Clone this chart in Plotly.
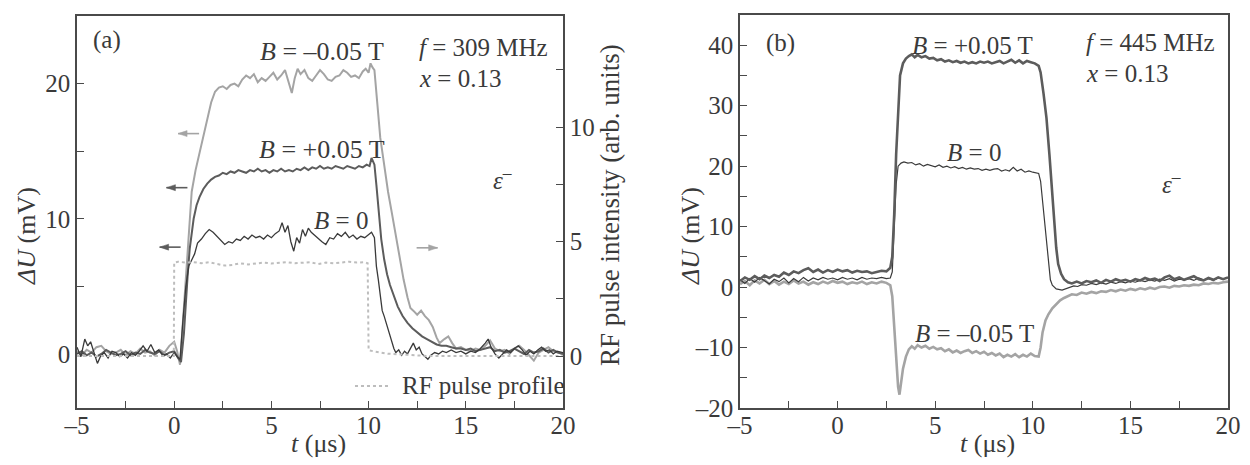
import plotly.graph_objects as go

# ---------------- Panel (a) data ----------------
a_neg_t = [-5.0,-4.75,-4.5,-4.25,-4.0,-3.75,-3.5,-3.25,-3.0,-2.75,-2.5,-2.25,-2.0,-1.75,-1.5,-1.25,-1.0,-0.75,-0.5,-0.25,0.0,0.15,0.3,
           0.45,0.6,0.75,0.9,1.1,1.3,1.5,1.7,1.9,2.1,2.3,
           2.5,2.7,2.9,3.1,3.3,3.5,3.7,3.9,4.1,4.3,4.5,4.7,4.9,5.1,5.3,5.5,5.7,5.9,6.05,6.2,6.35,6.5,6.7,6.9,7.1,7.3,7.5,7.7,7.9,8.1,8.3,8.5,8.7,8.9,9.1,9.3,9.5,9.7,9.85,10.0,10.1,10.2,
           10.3,10.45,10.6,10.8,11.0,11.2,11.4,11.6,11.8,12.0,12.15,12.3,12.5,12.7,12.9,13.1,13.3,13.5,13.65,13.9,14.1,14.3,14.5,14.75,15.0,15.25,15.5,15.75,16.0,16.25,16.5,16.75,17.0,17.25,17.5,17.75,18.0,18.25,18.5,18.75,19.0,19.25,19.5,19.75,20.0]
a_neg_v = [0.2,-0.1,0.3,0.1,0.5,0.6,0.2,0.0,0.1,0.3,-0.1,0.2,0.0,0.4,0.1,0.2,-0.1,0.3,0.1,0.6,0.9,0.2,-0.8,
           2.5,6.0,9.5,12.0,13.6,14.8,16.0,17.3,18.6,19.4,19.7,
           19.8,19.6,19.9,20.0,19.8,20.3,20.6,20.4,20.7,20.1,20.4,20.2,20.5,20.8,20.3,20.6,21.0,20.0,19.3,20.4,21.1,20.7,21.0,20.4,20.2,20.6,21.0,20.7,20.3,20.2,20.5,20.6,21.0,20.8,20.5,20.6,20.4,20.9,21.1,20.8,21.5,21.2,
           21.0,18.5,16.0,14.0,12.0,10.4,8.8,7.0,5.5,4.2,3.4,3.2,2.9,3.2,2.8,2.5,2.0,1.2,0.8,1.1,1.3,0.8,0.4,0.5,0.3,0.2,0.4,0.3,0.6,1.0,0.4,0.2,0.3,0.0,0.4,0.6,0.3,-0.1,-0.5,0.1,0.3,0.5,0.2,0.1,0.0]

a_pos_t = [-5.0,-4.75,-4.5,-4.25,-4.0,-3.75,-3.5,-3.25,-3.0,-2.75,-2.5,-2.25,-2.0,-1.75,-1.5,-1.25,-1.0,-0.75,-0.5,-0.25,0.0,0.2,0.35,
           0.5,0.6,0.7,0.8,0.9,1.0,1.15,1.3,1.5,1.7,1.9,2.1,2.3,
           2.5,2.7,2.9,3.1,3.3,3.5,3.7,3.9,4.1,4.3,4.5,4.7,4.9,5.1,5.3,5.5,5.7,5.9,6.1,6.3,6.5,6.7,6.9,7.1,7.3,7.5,7.7,7.9,8.1,8.3,8.5,8.7,8.9,9.1,9.3,9.5,9.7,9.9,10.05,10.15,
           10.3,10.4,10.5,10.65,10.8,10.95,11.1,11.3,11.5,11.75,12.0,12.25,12.5,12.75,13.0,13.25,13.5,13.75,14.0,14.25,14.5,14.75,15.0,15.25,15.5,15.75,16.0,16.25,16.5,16.75,17.0,17.25,17.5,17.75,18.0,18.25,18.5,18.75,19.0,19.25,19.5,19.75,20.0]
a_pos_v = [0.0,0.2,-0.1,0.1,-0.2,0.0,0.3,0.1,-0.1,0.0,0.2,-0.1,0.1,0.0,0.3,0.1,0.0,0.2,-0.1,0.1,0.2,-0.3,-0.6,
           1.5,4.0,6.0,7.8,9.0,10.0,11.0,11.6,12.2,12.6,12.9,13.1,13.2,
           13.4,13.3,13.5,13.4,13.6,13.5,13.4,13.6,13.5,13.7,13.5,13.6,13.4,13.6,13.5,13.7,13.5,13.6,13.5,13.7,13.6,13.8,13.6,13.8,13.7,13.9,13.7,13.8,13.7,13.9,13.8,13.7,13.9,13.8,13.7,13.9,13.8,14.0,13.9,14.5,
           14.0,12.5,11.0,8.5,7.0,5.9,5.1,4.3,3.5,2.8,2.3,1.9,1.6,1.3,1.1,0.9,0.7,0.6,0.6,0.5,0.4,0.4,0.3,0.4,0.2,0.3,0.4,0.5,0.2,0.3,0.1,0.2,0.4,0.2,0.0,0.3,0.1,0.2,0.4,0.1,0.3,0.1,0.0]

a_zero_t = [-5.0,-4.8,-4.6,-4.45,-4.3,-4.1,-3.95,-3.8,-3.6,-3.4,-3.2,-3.0,-2.8,-2.6,-2.4,-2.2,-2.0,-1.8,-1.6,-1.4,-1.2,-1.0,-0.8,-0.6,-0.4,-0.2,0.0,0.15,0.3,
            0.45,0.6,0.75,0.9,1.05,1.2,1.4,1.6,1.8,2.0,2.2,2.4,2.6,2.8,3.0,3.2,3.4,3.6,3.8,4.0,4.2,4.4,4.6,4.8,5.0,5.2,5.4,5.55,5.7,5.85,6.0,6.15,6.3,6.45,6.6,6.75,6.9,7.05,7.2,7.4,7.6,7.8,8.0,8.2,8.4,8.6,8.8,9.0,9.2,9.4,9.6,9.8,10.0,10.15,
            10.3,10.4,10.5,10.6,10.7,10.8,10.9,11.0,11.1,11.2,11.3,11.4,11.55,11.7,11.85,12.0,12.15,12.3,12.45,12.6,12.75,12.9,13.05,13.2,13.4,13.6,13.8,14.0,14.25,14.5,14.75,15.0,15.25,15.5,15.75,16.0,16.15,16.3,16.5,16.7,16.9,17.1,17.3,17.5,17.7,17.9,18.1,18.3,18.5,18.7,18.9,19.1,19.3,19.5,19.7,20.0]
a_zero_v = [0.5,-0.2,1.1,0.6,0.9,0.0,-0.7,-0.2,0.1,-0.3,0.2,0.1,-0.2,0.0,-0.3,0.1,-0.1,0.2,0.6,0.2,0.7,0.1,0.3,-0.1,0.0,-0.3,0.1,-0.2,-0.4,
            2.5,5.0,6.5,7.0,7.4,8.2,8.5,8.9,9.2,9.0,8.7,8.4,8.1,8.3,8.2,8.5,8.4,8.7,8.5,8.8,8.6,8.7,8.5,8.8,8.6,8.9,9.1,9.7,9.0,9.5,8.3,7.6,8.6,8.2,9.2,8.7,9.3,9.0,8.8,8.6,8.3,8.1,8.6,8.5,8.9,8.7,9.0,8.6,8.8,8.5,8.7,8.6,8.8,9.0,
            8.6,6.5,5.5,4.5,3.2,2.8,2.3,1.8,1.2,0.9,0.4,0.1,0.3,-0.1,0.2,0.0,0.4,0.8,0.3,0.5,0.0,-0.2,-0.4,-0.1,0.1,0.0,0.2,0.1,0.3,0.1,0.2,0.0,0.2,0.1,0.4,0.8,1.1,0.5,0.0,-0.3,0.0,0.3,0.1,0.4,0.6,0.3,-0.1,0.2,0.0,0.3,0.5,0.2,0.3,0.0,0.2,0.1]

rf_t = [-5.0,-0.02,0.0,0.2,0.6,1.0,1.4,1.8,2.2,2.6,3.0,3.4,3.8,4.2,4.6,5.0,5.4,5.8,6.2,6.6,7.0,7.4,7.8,8.2,8.6,9.0,9.4,9.8,9.95,10.0,10.3,10.6,11.0,11.5,12.0,13.0,20.0]
rf_v = [0.0,0.0,4.08,4.12,4.08,4.1,4.05,4.1,4.02,3.95,3.98,4.05,4.0,4.05,4.08,4.04,4.08,4.1,4.05,4.08,4.1,4.02,4.08,4.05,4.1,4.12,4.08,4.1,4.05,0.25,0.2,0.15,0.1,0.08,0.05,0.0,0.0]

# ---------------- Panel (b) data ----------------
b_pos_t = [-5.0,-4.75,-4.5,-4.25,-4.0,-3.75,-3.5,-3.25,-3.0,-2.75,-2.5,-2.25,-2.0,-1.75,-1.5,-1.25,-1.0,-0.75,-0.5,-0.25,0.0,0.25,0.5,0.75,1.0,1.25,1.5,1.75,2.0,2.25,2.5,2.7,2.8,
           2.9,3.0,3.1,3.2,3.35,3.5,3.65,3.8,3.95,4.1,4.3,4.5,4.7,4.9,5.1,5.3,5.5,5.7,5.9,6.1,6.3,6.5,6.7,6.9,7.1,7.3,7.5,7.7,7.9,8.1,8.3,8.5,8.7,8.9,9.1,9.3,9.5,9.7,9.9,10.1,10.3,
           10.4,10.55,10.7,10.85,11.0,11.1,11.2,11.3,11.45,11.6,11.8,12.0,12.25,12.5,12.75,13.0,13.25,13.5,13.75,14.0,14.25,14.5,14.75,15.0,15.25,15.5,15.75,16.0,16.25,16.5,16.75,17.0,17.25,17.5,17.75,18.0,18.25,18.5,18.75,19.0,19.25,19.5,19.75,20.0]
b_pos_v = [1.0,1.6,1.2,1.8,1.3,1.9,1.5,2.0,1.7,2.4,2.0,2.6,2.3,2.8,3.1,2.5,2.9,2.4,2.8,2.5,2.9,2.6,2.8,2.4,2.7,2.5,2.6,2.3,2.5,2.7,2.6,3.2,5.0,
           12.0,22.0,30.0,35.0,37.0,37.8,38.2,38.5,38.0,38.4,38.0,38.2,37.8,37.9,37.5,37.7,37.3,37.5,37.2,37.4,37.1,37.3,37.0,37.2,37.0,37.3,37.1,37.3,37.0,37.2,37.4,37.0,37.3,37.6,37.1,37.5,37.0,37.4,37.2,37.0,36.6,
           35.5,32.0,28.0,22.0,15.0,11.0,6.5,3.8,2.2,1.3,0.8,0.6,0.9,0.6,1.0,0.8,1.1,0.7,1.2,0.9,1.3,1.0,1.2,0.9,1.3,1.1,1.5,1.2,1.4,1.0,1.6,1.9,1.3,1.6,1.2,1.5,1.8,1.3,1.1,1.5,1.2,1.6,1.3,1.6]

b_zero_t = [-5.0,-4.75,-4.5,-4.25,-4.0,-3.75,-3.5,-3.25,-3.0,-2.75,-2.5,-2.25,-2.0,-1.75,-1.5,-1.25,-1.0,-0.75,-0.5,-0.25,0.0,0.25,0.5,0.75,1.0,1.25,1.5,1.75,2.0,2.25,2.5,2.7,2.8,
            2.9,3.0,3.1,3.25,3.4,3.6,3.8,4.0,4.2,4.4,4.6,4.8,5.0,5.2,5.4,5.6,5.8,6.0,6.2,6.4,6.6,6.8,7.0,7.2,7.4,7.6,7.8,8.0,8.2,8.4,8.6,8.8,9.0,9.2,9.4,9.6,9.8,10.0,10.2,10.3,
            10.4,10.5,10.6,10.7,10.8,10.9,11.0,11.2,11.5,11.7,11.9,12.1,12.3,12.5,12.75,13.0,13.25,13.5,13.75,14.0,14.25,14.5,14.75,15.0,15.25,15.5,15.75,16.0,16.25,16.5,16.75,17.0,17.25,17.5,17.75,18.0,18.25,18.5,18.75,19.0,19.25,19.5,19.75,20.0]
b_zero_v = [1.2,0.6,1.4,0.8,1.6,1.0,0.5,1.3,0.9,1.5,0.7,1.4,0.9,1.6,1.0,1.5,1.2,1.6,1.3,1.5,1.2,1.6,1.3,1.5,1.2,1.6,1.3,1.5,1.4,1.6,1.4,1.5,2.5,
            10.0,17.0,20.0,20.5,20.7,20.5,20.6,20.2,20.4,20.0,20.3,20.1,19.9,20.2,19.8,20.0,19.7,19.9,19.6,19.8,19.5,19.7,19.5,19.6,19.3,19.5,19.3,19.5,19.6,19.2,19.4,19.2,19.8,19.2,19.5,19.0,19.2,19.0,18.8,18.8,
            17.5,14.0,10.5,7.0,3.5,1.2,0.3,-0.3,-0.5,-0.3,0.0,0.2,0.1,0.4,0.3,0.6,0.4,0.7,0.5,0.8,0.6,0.9,0.7,1.0,0.8,1.1,0.9,1.2,1.0,1.3,1.1,1.4,1.0,1.3,1.2,1.4,1.1,1.5,1.2,1.4,1.1,1.5,1.3,1.6]

b_neg_t = [-5.0,-4.75,-4.5,-4.25,-4.0,-3.75,-3.5,-3.25,-3.0,-2.75,-2.5,-2.25,-2.0,-1.75,-1.5,-1.25,-1.0,-0.75,-0.5,-0.25,0.0,0.25,0.5,0.75,1.0,1.25,1.5,1.75,2.0,2.25,2.5,2.7,2.8,
           2.9,3.0,3.1,3.17,3.25,3.35,3.5,3.65,3.8,3.95,4.1,4.3,4.5,4.7,4.9,5.1,5.3,5.5,5.7,5.9,6.1,6.3,6.5,6.7,6.9,7.1,7.3,7.5,7.7,7.9,8.1,8.3,8.5,8.7,8.9,9.1,9.3,9.5,9.7,9.9,10.1,10.3,
           10.4,10.5,10.65,10.8,11.0,11.2,11.4,11.6,11.8,12.0,12.25,12.5,12.75,13.0,13.25,13.5,13.75,14.0,14.25,14.5,14.75,15.0,15.25,15.5,15.75,16.0,16.25,16.5,16.75,17.0,17.25,17.5,17.75,18.0,18.25,18.5,18.75,19.0,19.25,19.5,19.75,20.0]
b_neg_v = [0.5,1.0,0.3,1.1,0.6,1.2,0.5,1.0,0.4,0.9,0.5,1.1,0.6,0.9,0.4,0.8,0.5,0.9,0.6,1.0,0.7,0.9,0.5,0.8,0.6,0.9,0.5,0.8,0.6,0.9,0.7,0.3,-1.5,
           -6.0,-12.0,-16.5,-17.8,-16.0,-13.5,-11.5,-10.3,-9.8,-10.2,-9.6,-10.0,-9.7,-10.2,-9.9,-10.3,-10.1,-10.6,-10.3,-10.8,-10.5,-10.9,-10.6,-10.4,-10.9,-10.6,-11.0,-10.7,-11.2,-10.9,-11.3,-11.0,-11.6,-11.2,-11.5,-11.1,-11.6,-11.2,-11.5,-11.0,-11.4,-11.5,
           -10.0,-7.5,-5.5,-4.5,-3.5,-2.8,-2.2,-1.8,-1.5,-1.2,-1.3,-0.9,-1.1,-0.8,-1.0,-0.7,-0.8,-0.5,-0.7,-0.4,-0.6,-0.3,-0.5,-0.2,-0.4,-0.1,-0.3,0.0,0.1,-0.1,0.2,0.1,0.3,0.2,0.4,0.3,0.6,0.5,0.7,0.6,0.8,0.9]

x_tickvals = [-5, 0, 5, 10, 15, 20]
x_ticktext = ["–5", "0", "5", "10", "15", "20"]
ya_tickvals = [0, 10, 20]
ya_ticktext = ["0", "10", "20"]
y2_tickvals = [0, 5, 10, 15]
y2_ticktext = ["0", "5", "10", "15"]
yb_tickvals = [-20, -10, 0, 10, 20, 30, 40]
yb_ticktext = ["–20", "–10", "0", "10", "20", "30", "40"]

# ---------------- layout geometry (page has an 8 px body margin) ----------------
OFF = 8
W, H = 1250 - OFF, 465 - OFF

def fx(X):  # page pixel -> paper x
    return (X - OFF) / W

def fy(Y):  # page pixel -> paper y
    return 1 - (Y - OFF) / H

# ---------------- styling ----------------
FONT = "Liberation Serif, Times New Roman, DejaVu Serif, serif"
AX = "#4a4a4a"
TXT = "#3a3a3a"
LIGHT = "#a4a4a4"
MID = "#5c5c5c"
DARK = "#3a3a3a"
FS = 25

fig = go.Figure()

# panel (a)
fig.add_trace(go.Scatter(x=rf_t, y=rf_v, xaxis="x", yaxis="y2", mode="lines",
                         line=dict(color="#bdbdbd", width=2, dash="dot"), showlegend=False))
fig.add_trace(go.Scatter(x=a_neg_t, y=a_neg_v, xaxis="x", yaxis="y", mode="lines",
                         line=dict(color=LIGHT, width=2), showlegend=False))
fig.add_trace(go.Scatter(x=a_pos_t, y=a_pos_v, xaxis="x", yaxis="y", mode="lines",
                         line=dict(color=MID, width=2), showlegend=False))
fig.add_trace(go.Scatter(x=a_zero_t, y=a_zero_v, xaxis="x", yaxis="y", mode="lines",
                         line=dict(color=DARK, width=1.3), showlegend=False))
# panel (b)
fig.add_trace(go.Scatter(x=b_neg_t, y=b_neg_v, xaxis="x3", yaxis="y3", mode="lines",
                         line=dict(color=LIGHT, width=2.6), showlegend=False))
fig.add_trace(go.Scatter(x=b_zero_t, y=b_zero_v, xaxis="x3", yaxis="y3", mode="lines",
                         line=dict(color=DARK, width=1.2), showlegend=False))
fig.add_trace(go.Scatter(x=b_pos_t, y=b_pos_v, xaxis="x3", yaxis="y3", mode="lines",
                         line=dict(color=MID, width=2.6), showlegend=False))

axis_common = dict(showline=True, linecolor=AX, linewidth=1.5, ticks="inside", ticklen=7,
                   tickwidth=1.3, tickcolor=AX, showgrid=False, zeroline=False, automargin=False,
                   tickfont=dict(family=FONT, size=FS, color=TXT))
minor5 = dict(dtick=5, tick0=0, ticks="inside", ticklen=7, tickcolor=AX, tickwidth=1.3)
minor25 = dict(dtick=2.5, tick0=0, ticks="inside", ticklen=7, tickcolor=AX, tickwidth=1.3)

fig.update_layout(
    width=W, height=H, margin=dict(l=0, r=0, t=0, b=0),
    paper_bgcolor="white", plot_bgcolor="white", showlegend=False,
    font=dict(family=FONT, size=FS, color=TXT),
    xaxis=dict(domain=[fx(77), fx(563)], range=[-5, 20], anchor="y", mirror=True, ticklabelstandoff=-6,
               tickmode="array", tickvals=x_tickvals, ticktext=x_ticktext, minor=minor25, **axis_common),
    yaxis=dict(domain=[fy(408), fy(16)], range=[-4, 25], anchor="x",
               tickmode="array", tickvals=ya_tickvals, ticktext=ya_ticktext, minor=minor5, **axis_common),
    yaxis2=dict(domain=[fy(408), fy(16)], range=[-2.27, 14.85], anchor="x", overlaying="y", side="right",
                tickmode="array", tickvals=y2_tickvals, ticktext=y2_ticktext, minor=minor25, **axis_common),
    xaxis3=dict(domain=[fx(740), fx(1228)], range=[-5, 20], anchor="y3", mirror=True, ticklabelstandoff=-6,
                tickmode="array", tickvals=x_tickvals, ticktext=x_ticktext, minor=minor25, **axis_common),
    yaxis3=dict(domain=[fy(408), fy(15)], range=[-20, 45], anchor="x3", mirror=True,
                tickmode="array", tickvals=yb_tickvals, ticktext=yb_ticktext, minor=minor5, **axis_common),
)

def txt(x, y, s, xref="x", yref="y", xanchor="center", size=FS, angle=0):
    fig.add_annotation(x=x, y=y, xref=xref, yref=yref, text=s, showarrow=False,
                       xanchor=xanchor, yanchor="middle", textangle=angle,
                       font=dict(family=FONT, size=size, color=TXT))

# panel (a) labels
txt(-4.3, 23.2, "(a)", xanchor="left")
txt(7.6, 22.4, "<i>B</i> = –0.05 T", size=26)
txt(7.6, 15.1, "<i>B</i> = +0.05 T", size=26)
txt(8.6, 9.9, "<i>B</i> = 0")
txt(12.5, 22.7, "<i>f</i> = 309 MHz", xanchor="left")
txt(12.5, 20.4, "<i>x</i> = 0.13", xanchor="left")
txt(16.9, 13.0, "<i>ε</i><sup>–</sup>")
txt(11.6, -2.37, "RF pulse profile", xanchor="left")
fig.add_shape(type="line", xref="x", yref="y", x0=9.3, x1=11.0, y0=-2.37, y1=-2.37,
              line=dict(color="#bdbdbd", width=2, dash="dot"))

# arrows panel (a): shaft + head drawn as shapes anchored at data positions
def arrow(x_head, y, direction, color, xr="x", yr="y"):
    d = 1 if direction == "left" else -1
    fig.add_shape(type="line", xref=xr, yref=yr, xsizemode="pixel", ysizemode="pixel",
                  xanchor=x_head, yanchor=y, x0=0, x1=d * 21, y0=0, y1=0,
                  line=dict(color=color, width=1.6))
    fig.add_shape(type="path", xref=xr, yref=yr, xsizemode="pixel", ysizemode="pixel",
                  xanchor=x_head, yanchor=y,
                  path=f"M 0 0 L {d*9} 3 L {d*9} -3 Z",
                  fillcolor=color, line=dict(color=color, width=0.5))

arrow(0.2, 16.3, "left", LIGHT)
arrow(-0.4, 12.3, "left", MID)
arrow(-0.75, 7.9, "left", MID)
arrow(13.55, 7.85, "right", LIGHT)

# axis titles panel (a)
txt(fx(26), fy(236), "<i>ΔU</i> (mV)", xref="paper", yref="paper", angle=-90, size=26)
txt(fx(610), fy(205), "RF pulse intensity (arb. units)", xref="paper", yref="paper", angle=-90, size=27)
txt(fx(318), fy(443), "<i>t</i> (μs)", xref="paper", yref="paper", size=26)

# panel (b) labels
txt(-3.75, 40.4, "(b)", xref="x3", yref="y3", xanchor="left")
txt(6.9, 40.0, "<i>B</i> = +0.05 T", xref="x3", yref="y3")
txt(7.0, 22.2, "<i>B</i> = 0", xref="x3", yref="y3")
txt(7.0, -7.7, "<i>B</i> = –0.05 T", xref="x3", yref="y3")
txt(12.6, 40.4, "<i>f</i> = 445 MHz", xref="x3", yref="y3", xanchor="left")
txt(12.6, 35.4, "<i>x</i> = 0.13", xref="x3", yref="y3", xanchor="left")
txt(17.1, 17.3, "<i>ε</i><sup>–</sup>", xref="x3", yref="y3")
txt(fx(690), fy(236), "<i>ΔU</i> (mV)", xref="paper", yref="paper", angle=-90, size=26)
txt(fx(988), fy(443), "<i>t</i> (μs)", xref="paper", yref="paper", size=26)

fig.write_html("out.html")
